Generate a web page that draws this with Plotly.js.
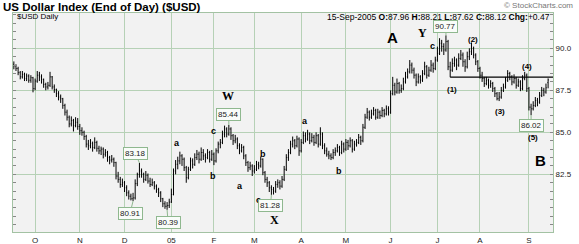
<!DOCTYPE html>
<html><head><meta charset="utf-8">
<script src="https://cdn.plot.ly/plotly-3.0.1.min.js"></script>
<style>html,body{margin:0;padding:0;background:#fff}#chart{width:579px;height:244px}</style>
</head><body><div id="chart"></div>
<script>
const opens = [
89.05,88.95,88.80,88.55,88.30,88.45,88.20,88.35,88.10,88.25,
87.60,88.05,88.40,88.30,88.15,87.85,87.70,87.80,88.30,87.70,
87.55,87.30,87.10,87.00,86.60,86.20,85.90,85.50,85.70,85.40,
85.60,85.35,85.10,85.00,84.75,84.30,84.20,84.35,84.10,84.40,
84.05,83.90,84.00,83.70,83.80,83.50,83.35,83.40,83.20,82.40,
82.20,81.90,82.00,81.70,81.40,81.20,81.05,81.10,81.95,82.50,
82.70,82.50,82.20,82.45,82.10,81.90,82.00,81.80,81.60,81.40,
81.05,80.75,80.60,80.65,80.85,81.30,82.70,83.10,83.30,83.60,
83.40,82.90,82.30,82.80,83.30,83.10,83.50,83.70,83.40,83.80,
83.60,83.50,83.80,83.40,83.70,83.30,83.90,84.30,84.40,84.90,
85.20,84.90,85.20,84.80,84.50,84.60,84.20,83.90,84.10,83.60,
83.20,82.90,83.00,82.70,82.80,83.10,83.00,83.40,82.60,82.20,
82.00,81.70,81.60,81.50,81.90,82.00,81.80,82.20,82.80,83.50,
83.80,84.30,84.50,84.20,84.60,83.90,84.40,84.80,84.60,84.90,
84.50,84.70,84.40,84.80,84.30,84.90,84.20,83.90,83.70,83.60,
83.50,83.80,83.90,84.10,83.80,84.30,84.00,84.40,84.20,84.50,
84.00,84.30,84.40,84.70,84.50,85.30,85.90,86.20,85.90,86.10,
86.30,85.90,86.20,86.00,86.30,86.10,86.40,86.20,87.30,87.80,
87.40,87.90,87.50,87.60,88.00,88.30,88.60,89.00,88.70,88.40,
88.00,88.30,88.10,88.50,88.90,88.40,88.70,89.00,88.80,89.30,
89.70,90.30,90.10,89.90,90.40,88.90,88.70,89.10,89.30,89.00,
89.40,89.60,89.20,88.90,89.50,89.80,90.00,89.60,89.20,88.80,
88.40,88.20,87.90,88.10,87.80,87.90,87.60,87.30,87.00,87.10,
87.50,87.70,88.10,88.50,88.30,88.00,88.20,87.80,88.00,87.60,
88.20,88.40,87.60,86.50,86.40,86.60,86.90,86.80,87.20,87.50,87.40,87.96];
const highs = [
89.22,89.05,88.90,88.65,88.65,88.55,88.50,88.45,88.40,88.30,
88.20,88.65,88.60,88.45,88.20,87.95,88.00,88.60,88.35,87.85,
87.60,87.45,87.25,87.05,86.70,86.35,86.00,85.95,85.80,85.90,
85.85,85.50,85.30,85.10,84.85,84.55,84.60,84.45,84.70,84.50,
84.20,84.15,84.10,84.00,83.90,83.60,83.65,83.50,83.25,82.65,
82.35,82.25,82.10,81.85,81.55,81.35,81.40,82.20,82.60,83.18,
82.85,82.60,82.70,82.55,82.30,82.25,82.10,81.90,81.70,81.50,
81.10,80.90,80.85,81.05,81.65,82.85,83.35,83.55,83.85,83.70,
83.50,83.00,82.95,83.50,83.45,83.75,83.95,83.85,84.10,84.00,
83.75,84.00,83.90,83.95,83.80,84.05,84.45,84.60,85.10,85.40,
85.30,85.44,85.30,84.90,84.85,84.70,84.35,84.30,84.20,83.70,
83.30,83.25,83.10,83.05,83.30,83.25,83.55,83.45,82.70,82.35,
82.10,81.85,81.75,82.10,82.20,82.15,82.40,83.00,83.70,84.00,
84.50,84.75,84.60,84.80,84.70,84.60,85.05,85.00,85.15,85.00,
84.95,84.85,85.00,84.90,85.30,85.00,84.35,84.10,83.90,83.75,
84.00,84.10,84.30,84.20,84.50,84.40,84.60,84.55,84.70,84.60,
84.50,84.60,84.90,84.80,85.50,86.10,86.45,86.30,86.35,86.50,
86.40,86.40,86.30,86.50,86.40,86.60,86.55,87.50,88.30,87.95,
88.20,88.00,87.85,88.25,88.60,88.80,89.30,89.15,88.85,88.50,
88.50,88.40,88.70,89.20,89.00,88.90,89.30,89.15,89.50,90.10,
90.60,90.50,90.30,90.77,90.50,89.20,89.40,89.50,89.40,89.70,
89.90,89.75,89.35,89.80,90.00,90.35,90.10,89.70,89.30,88.90,
88.60,88.30,88.30,88.20,88.10,88.00,87.70,87.40,87.40,87.70,
87.90,88.30,88.70,88.60,88.40,88.45,88.30,88.20,88.10,88.40,
88.60,88.50,87.70,86.70,86.85,87.10,87.05,87.40,87.70,87.65,87.90,88.21];
const lows = [
88.75,88.65,88.40,88.15,88.20,88.05,88.05,87.95,87.95,87.38,
87.50,87.95,88.05,87.90,87.65,87.50,87.55,87.70,87.55,87.35,
87.10,86.90,86.75,86.40,86.00,85.70,85.30,85.35,85.05,85.30,
85.15,84.85,84.80,84.55,84.10,83.95,84.05,83.85,84.00,83.85,
83.70,83.65,83.45,83.55,83.25,83.10,83.20,82.95,82.20,82.00,
81.70,81.75,81.45,81.20,81.00,80.95,80.91,81.00,81.80,82.30,
82.30,82.00,82.10,81.95,81.75,81.80,81.60,81.40,81.15,80.85,
80.55,80.45,80.39,80.50,80.80,81.25,82.50,82.80,83.10,83.00,
82.70,82.00,82.20,82.70,82.85,83.00,83.35,83.15,83.30,83.35,
83.20,83.40,83.20,83.30,83.05,83.20,83.75,84.05,84.30,84.70,
84.70,84.80,84.55,84.25,84.35,84.00,83.70,83.80,83.40,83.00,
82.65,82.75,82.40,82.55,82.70,82.80,82.90,82.45,82.00,81.75,
81.45,81.28,81.30,81.40,81.70,81.60,81.70,82.10,82.70,83.30,
83.70,84.10,84.00,84.10,83.60,83.80,84.30,84.40,84.50,84.30,
84.40,84.20,84.30,84.10,84.20,84.00,83.70,83.55,83.40,83.35,
83.40,83.60,83.80,83.60,83.70,83.80,83.90,83.95,84.10,83.80,
83.90,84.15,84.30,84.25,84.40,85.20,85.80,85.70,85.80,86.00,
85.75,85.80,85.80,85.90,85.90,86.00,86.00,86.10,87.20,87.20,
87.30,87.30,87.35,87.50,87.90,88.20,88.50,88.50,88.20,87.75,
87.90,87.90,88.00,88.40,88.20,88.30,88.60,88.55,88.70,89.20,
89.60,89.80,89.60,89.80,88.70,88.28,88.60,88.90,88.70,88.90,
89.30,88.90,88.60,88.80,89.30,89.60,89.40,89.00,88.60,88.20,
88.00,87.70,87.80,87.60,87.65,87.40,87.10,86.90,86.86,87.00,
87.40,87.60,88.00,88.10,87.80,87.90,87.60,87.70,87.45,87.50,
88.10,87.40,86.30,86.02,86.30,86.50,86.55,86.70,87.10,87.15,87.30,87.62];
const closes = [
88.95,88.80,88.55,88.30,88.45,88.20,88.35,88.10,88.25,87.60,
88.05,88.40,88.30,88.15,87.85,87.70,87.80,88.30,87.70,87.55,
87.30,87.10,87.00,86.60,86.20,85.90,85.50,85.70,85.40,85.60,
85.35,85.10,85.00,84.75,84.30,84.20,84.35,84.10,84.40,84.05,
83.90,84.00,83.70,83.80,83.50,83.35,83.40,83.20,82.40,82.20,
81.90,82.00,81.70,81.40,81.20,81.05,81.10,81.95,82.50,82.70,
82.50,82.20,82.45,82.10,81.90,82.00,81.80,81.60,81.40,81.05,
80.75,80.60,80.65,80.85,81.30,82.70,83.10,83.30,83.60,83.40,
82.90,82.30,82.80,83.30,83.10,83.50,83.70,83.40,83.80,83.60,
83.50,83.80,83.40,83.70,83.30,83.90,84.30,84.40,84.90,85.20,
84.90,85.20,84.80,84.50,84.60,84.20,83.90,84.10,83.60,83.20,
82.90,83.00,82.70,82.80,83.10,83.00,83.40,82.60,82.20,82.00,
81.70,81.60,81.50,81.90,82.00,81.80,82.20,82.80,83.50,83.80,
84.30,84.50,84.20,84.60,83.90,84.40,84.80,84.60,84.90,84.50,
84.70,84.40,84.80,84.30,84.90,84.20,83.90,83.70,83.60,83.50,
83.80,83.90,84.10,83.80,84.30,84.00,84.40,84.20,84.50,84.00,
84.30,84.40,84.70,84.50,85.30,85.90,86.20,85.90,86.10,86.30,
85.90,86.20,86.00,86.30,86.10,86.40,86.20,87.30,87.80,87.40,
87.90,87.50,87.60,88.00,88.30,88.60,89.00,88.70,88.40,88.00,
88.30,88.10,88.50,88.90,88.40,88.70,89.00,88.80,89.30,89.70,
90.30,90.10,89.90,90.40,88.90,88.70,89.10,89.30,89.00,89.40,
89.60,89.20,88.90,89.50,89.80,90.00,89.60,89.20,88.80,88.40,
88.20,87.90,88.10,87.80,87.90,87.60,87.30,87.00,87.10,87.50,
87.70,88.10,88.50,88.30,88.00,88.20,87.80,88.00,87.60,88.20,
88.40,87.60,86.50,86.40,86.60,86.90,86.80,87.20,87.50,87.40,87.65,88.12];

const monthTickIdx = [10,31,52,74,94,113,135,156,177,199,219,242];
const monthLabels = ['O','N','D','05','F','M','A','M','J','J','A','S'];
const priceTicks = [82.5, 85.0, 87.5, 90.0];
const lastDate = '15-Sep-2005';
const neckX = [205, 253.3];
const neckY = [88.28, 88.28];

const dayIdx = closes.map((_, i) => i);
const FONT = 'Liberation Sans, Arial, sans-serif';
const SERIF = 'Liberation Serif, Times New Roman, serif';
const GRID = '#b6d1b6';

const n = closes.length - 1;
const chg = closes[n] - closes[n - 1];
const stats = lastDate + ' <b>O:</b>' + opens[n].toFixed(2) + ' <b>H:</b>' + highs[n].toFixed(2) +
  ' <b>L:</b>' + lows[n].toFixed(2) + ' <b>C:</b>' + closes[n].toFixed(2) +
  ' <b>Chg:</b>' + (chg >= 0 ? '+' : '') + chg.toFixed(2);

const traces = [
  {type: 'ohlc', x: dayIdx, open: opens, high: highs, low: lows, close: closes,
   increasing: {line: {color: '#000', width: 1}}, decreasing: {line: {color: '#000', width: 1}},
   tickwidth: 0.3, hoverinfo: 'skip', showlegend: false},
  {type: 'scatter', mode: 'lines', x: neckX, y: neckY, line: {color: '#000', width: 1.2},
   hoverinfo: 'skip', showlegend: false}
];

const ann = [];
function txt(t, x, y, size, fam) {
  ann.push({text: t, x: x, y: y, xref: 'x', yref: 'y', showarrow: false,
    font: {family: fam, size: size, color: '#000'}});
}
[['a',76.7,84.35],['b',93.6,82.4],['c',93.7,85.1],['a',106.3,81.8],['b',117,83.73],
 ['c',115.1,80.95],['a',137,85.67],['b',152.9,82.68],['c',196.8,90.12]].forEach(p => txt('<b>'+p[0]+'</b>', p[1], p[2], 9, FONT));
[['W',100.8,87.16],['X',122.4,79.76],['Y',192.1,90.9]].forEach(p => txt('<b>'+p[0]+'</b>', p[1], p[2], 12, SERIF));
[['A',178,90.64],['B',247.5,83.33]].forEach(p => txt('<b>'+p[0]+'</b>', p[1], p[2], 15, FONT));
[['(1)',205.7,87.56],['(2)',215.6,90.54],['(3)',228.4,86.25],['(4)',240.96,88.89],['(5)',244.1,84.72]]
  .forEach(p => txt('<b>'+p[0]+'</b>', p[1], p[2], 8, FONT));

function box(i, useHigh, ax, ay) {
  const v = useHigh ? highs[i] : lows[i];
  ann.push({text: v.toFixed(2), x: i, y: v, xref: 'x', yref: 'y', showarrow: true,
    arrowhead: 0, arrowwidth: 1, arrowcolor: '#8fb88f', ax: ax, ay: ay, standoff: 0,
    bgcolor: '#f9fcf9', bordercolor: '#8fb88f', borderwidth: 1, borderpad: 1,
    font: {family: FONT, size: 8, color: '#222'}});
}
box(59, true, -4, -9);
box(56, false, -3, 12);
box(72, false, 1, 13);
box(101, true, 0, -10);
box(121, false, -1, 11);
box(203, true, 0, -9);
box(243, false, 0, 10);

ann.push({text: '© StockCharts.com', xref: 'paper', yref: 'paper', x: 1.04, y: 1.032,
  xanchor: 'right', yanchor: 'middle', showarrow: false, font: {family: FONT, size: 8, color: '#777'}});
ann.push({text: stats, xref: 'paper', yref: 'paper', x: 0.998, y: 0.982,
  xanchor: 'right', yanchor: 'middle', showarrow: false, font: {family: FONT, size: 8.5, color: '#000'}});
ann.push({text: '$USD Daily', xref: 'paper', yref: 'paper', x: 0.004, y: 0.982,
  xanchor: 'left', yanchor: 'middle', showarrow: false, font: {family: FONT, size: 8, color: '#000'}});

const layout = {
  width: 579, height: 244,
  margin: {l: 13, r: 26, t: 13, b: 12, pad: 0},
  paper_bgcolor: '#ffffff', plot_bgcolor: '#f2f2f2',
  showlegend: false,
  title: {text: '<b>US Dollar Index (End of Day) ($USD)</b>', font: {family: FONT, size: 11.5, color: '#000'},
    x: 3/579, xref: 'container', xanchor: 'left', y: 1 - 7/244, yref: 'container', yanchor: 'middle'},
  xaxis: {range: [-0.4, 253.3], tickmode: 'array', tickvals: monthTickIdx, ticktext: monthLabels,
    showgrid: true, gridcolor: GRID, gridwidth: 1, zeroline: false, ticks: '',
    showline: true, linecolor: '#a3c2a3', linewidth: 1, mirror: true,
    tickfont: {family: FONT, size: 8, color: '#222'}, rangeslider: {visible: false}, fixedrange: true},
  yaxis: {side: 'right', range: [79.07, 92.1], tickmode: 'array', tickvals: priceTicks,
    ticktext: priceTicks.map(v => v.toFixed(1)),
    showgrid: true, gridcolor: GRID, gridwidth: 1, zeroline: false, ticks: '',
    showline: true, linecolor: '#a3c2a3', linewidth: 1, mirror: 'allticks',
    minor: {tickmode: 'linear', tick0: 0, dtick: 0.5, ticks: 'inside', ticklen: 3, tickcolor: '#888', showgrid: false},
    tickfont: {family: FONT, size: 8, color: '#222'}, fixedrange: true},
  annotations: ann
};

Plotly.newPlot('chart', traces, layout, {staticPlot: true, displayModeBar: false});
</script></body></html>
